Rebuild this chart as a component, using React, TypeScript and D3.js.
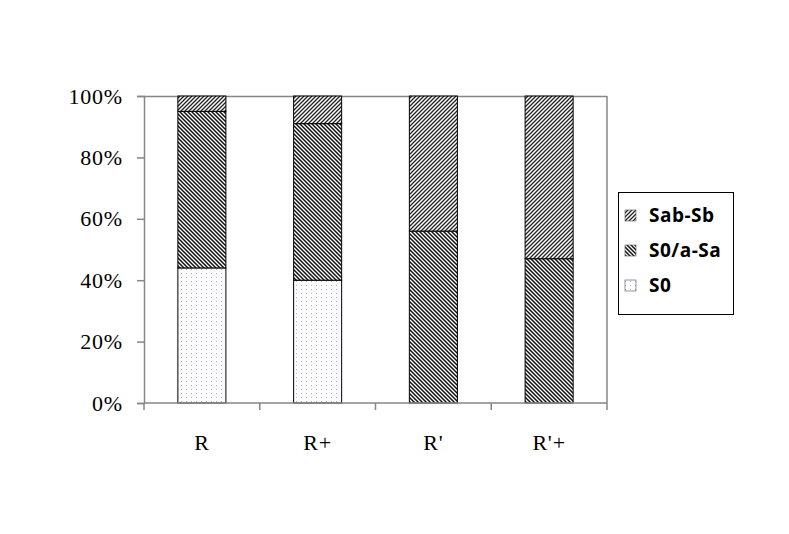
import React, { useEffect, useRef } from 'react';
import * as d3 from 'd3';

const categories = ['R', 'R+', "R'", "R'+"];
const seriesNames = ['S0', 'S0/a-Sa', 'Sab-Sb'];
const s0 = [44, 40, 0, 0];
const s0aSa = [51, 51, 56, 47];
const sabSb = [5, 9, 44, 53];
const yTicks = [0, 20, 40, 60, 80, 100];
const legendOrder = ['Sab-Sb', 'S0/a-Sa', 'S0'];

const App = () => {
  const ref = useRef<SVGSVGElement>(null);
  const svgWidth = 789;
  const svgHeight = 534;
  const margin = { top: 96, right: 182, bottom: 131, left: 144 };
  const width = svgWidth - margin.left - margin.right;
  const height = svgHeight - margin.top - margin.bottom;

  useEffect(() => {
    const svg = d3.select(ref.current);
    svg.selectAll('*').remove();

    // hatch patterns
    const defs = svg.append('defs');
    const up = defs.append('pattern')
      .attr('id', 'pat-up').attr('patternUnits', 'userSpaceOnUse')
      .attr('width', 4).attr('height', 4);
    up.append('rect').attr('width', 4).attr('height', 4).attr('fill', '#fff');
    up.append('path').attr('d', 'M-1,1 l2,-2 M0,4 l4,-4 M3,5 l2,-2')
      .attr('stroke', '#222').attr('stroke-width', 1.3);

    const down = defs.append('pattern')
      .attr('id', 'pat-down').attr('patternUnits', 'userSpaceOnUse')
      .attr('width', 4).attr('height', 4);
    down.append('rect').attr('width', 4).attr('height', 4).attr('fill', '#fff');
    down.append('path').attr('d', 'M-1,3 l2,2 M0,0 l4,4 M3,-1 l2,2')
      .attr('stroke', '#111').attr('stroke-width', 1.5);

    const dots = defs.append('pattern')
      .attr('id', 'pat-dots').attr('patternUnits', 'userSpaceOnUse')
      .attr('width', 5).attr('height', 4);
    dots.append('rect').attr('width', 5).attr('height', 4).attr('fill', '#fcfcff');
    dots.append('rect').attr('x', 2).attr('y', 1).attr('width', 1).attr('height', 1).attr('fill', '#b0b0c8');

    const fills: Record<string, string> = {
      'S0': 'url(#pat-dots)',
      'S0/a-Sa': 'url(#pat-down)',
      'Sab-Sb': 'url(#pat-up)',
    };

    const g = svg.append('g')
      .attr('transform', `translate(${margin.left},${margin.top})`);

    const xScale = d3.scaleBand().domain(categories).range([0, width]).paddingInner(0.585).paddingOuter(0.2925);
    const yScale = d3.scaleLinear().domain([0, 100]).range([height, 0]);

    // plot frame
    g.append('line').attr('x1', 0).attr('x2', width).attr('y1', 0.5).attr('y2', 0.5)
      .attr('stroke', '#868686').attr('stroke-width', 1.5);
    g.append('line').attr('x1', width).attr('x2', width).attr('y1', 0).attr('y2', height)
      .attr('stroke', '#868686').attr('stroke-width', 1.5);

    const table = categories.map((c, i) => ({ cat: c, 'S0': s0[i], 'S0/a-Sa': s0aSa[i], 'Sab-Sb': sabSb[i] }));
    const stacked = d3.stack<any>().keys(seriesNames)(table);

    stacked.forEach(layer => {
      g.selectAll(null)
        .data(layer.filter(d => d[1] - d[0] > 0))
        .enter()
        .append('rect')
        .attr('x', d => xScale(d.data.cat)!)
        .attr('width', xScale.bandwidth())
        .attr('y', d => yScale(d[1]))
        .attr('height', d => yScale(d[0]) - yScale(d[1]))
        .attr('fill', fills[layer.key])
        .attr('stroke', '#000')
        .attr('stroke-width', 1);
    });

    const serif = '"Liberation Serif", "Times New Roman", serif';

    // y axis
    const yAxis = d3.axisLeft(yScale).tickValues(yTicks).tickFormat(d => `${d}%`).tickSize(7).tickPadding(14);
    const ya = g.append('g').call(yAxis);
    ya.select('.domain').attr('stroke', '#868686').attr('stroke-width', 1.5);
    ya.selectAll('.tick line').attr('stroke', '#868686').attr('stroke-width', 1.5);
    ya.selectAll('.tick text')
      .attr('font-family', serif)
      .attr('font-size', 22)
      .attr('letter-spacing', 0.8)
      .attr('fill', '#000');

    // x axis
    const xa = g.append('g').attr('transform', `translate(0,${height})`);
    xa.append('line').attr('x1', 0).attr('x2', width).attr('y1', 0).attr('y2', 0)
      .attr('stroke', '#868686').attr('stroke-width', 1.5);
    const step = width / categories.length;
    xa.selectAll('line.xt')
      .data(d3.range(categories.length + 1))
      .enter().append('line')
      .attr('class', 'xt')
      .attr('x1', d => d * step).attr('x2', d => d * step)
      .attr('y1', 0).attr('y2', 7)
      .attr('stroke', '#868686').attr('stroke-width', 1.5);
    xa.selectAll('text')
      .data(categories)
      .enter().append('text')
      .attr('x', d => xScale(d)! + xScale.bandwidth() / 2)
      .attr('y', 47)
      .attr('text-anchor', 'middle')
      .attr('font-family', serif)
      .attr('font-size', 22)
      .attr('letter-spacing', 0.8)
      .text(d => d);

    // legend
    const lg = svg.append('g').attr('transform', 'translate(618,192)');
    lg.append('rect').attr('x', 0.5).attr('y', 0.5).attr('width', 115).attr('height', 122)
      .attr('fill', '#fff').attr('stroke', '#000').attr('stroke-width', 1);
    legendOrder.forEach((name, i) => {
      const yy = 24 + i * 35;
      lg.append('rect').attr('x', 7).attr('y', yy - 6).attr('width', 11).attr('height', 11)
        .attr('fill', fills[name]).attr('stroke', '#555').attr('stroke-width', 0.6);
      lg.append('text').attr('x', 31).attr('y', yy + 6)
        .attr('font-family', '"Open Sans", "DejaVu Sans", sans-serif')
        .attr('font-weight', 'bold').attr('font-size', 19)
        .attr('letter-spacing', 0.5)
        .text(name);
    });
  }, []);

  return <svg ref={ref} width={svgWidth} height={svgHeight} style={{ position: 'absolute', left: 0, top: 0 }} />;
};

export default App;
